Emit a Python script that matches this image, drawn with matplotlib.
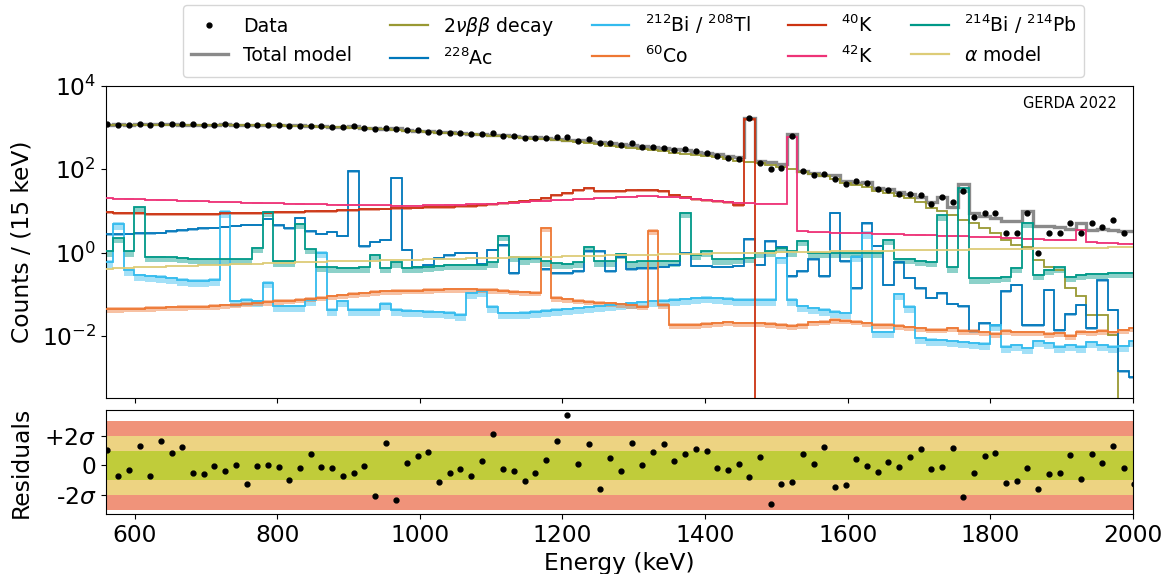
import numpy as np
import matplotlib
matplotlib.use("Agg")
import matplotlib.pyplot as plt
from matplotlib.lines import Line2D

# binning: 15 keV bins, centres at 562, 577, ... keV
bin_start = 554.5
bin_width = 15.0

# fitted model components, counts per bin
two_nbb = [
    1150, 1152, 1154, 1156, 1157, 1158, 1158, 1157, 1156, 1155, 1153, 1151, 1149, 1146, 1143, 1140, 1136,
    1115, 1095, 1075, 1055, 1035, 1010, 985, 955, 930, 905, 878, 852, 822, 790, 760, 735,
    712, 690, 668, 645, 620, 595, 570, 545, 520, 494, 469, 444, 420, 395, 370, 348, 328,
    300, 284, 268, 252, 237, 222, 207, 193, 178, 160, 150, 140, 128, 116,
    100, 85, 75, 68, 58, 47, 41, 37, 30, 27, 22.5, 20, 16.5, 12, 10, 8.0, 6.1, 5.0, 3.8, 2.9,
    2.0, 1.55, 1.34, 0.67, 0.46, 0.38, 0.14, 0.088, 0.032, 0.032, 0.0106, 0, 0,
]
ac228 = [
    2.75, 2.75, 2.8, 2.9, 2.9, 3.0, 3.2, 3.4, 3.6, 3.8, 3.9, 4.2, 4.4, 4.6, 4.6, 6.5, 4.5,
    3.8, 6.9, 3.2, 2.8, 3.15, 2.5, 90, 1.4, 1.8, 2.0, 63, 1.16, 0.44, 0.51, 0.73, 0.85,
    1.0, 1.0, 0.53, 1.16, 1.5, 0.32, 0.73, 0.73, 0.4, 0.32, 0.32, 0.35, 1.06, 1.06, 0.35, 0.8, 0.4,
    0.42, 0.42, 0.46, 0.51, 1.0, 0.48, 0.48, 0.46, 0.46, 0.48, 2.1, 0.51, 1.84, 1.39,
    0.27, 0.35, 0.69, 0.27, 9.1, 0.61, 0.14, 5.06, 1.45, 0.17, 0.58, 0.25, 0.137, 0.083, 0.106,
    0.059, 0.051, 0.0127, 0.020, 0.0178, 0.116, 0.168, 0.018, 0.018, 0.127, 0.0134, 0.033,
    0.055, 0.0153, 0.213, 0.042, 0.0014, 0.001,
]
bi212_tl208 = [
    0.6, 4.9, 0.38, 0.29, 0.27, 0.26, 0.24, 0.22, 0.21, 0.21, 0.22, 9.6, 0.067, 0.073, 0.067,
    0.19, 0.051, 0.051, 0.051, 0.073, 1.0, 0.042, 0.067, 0.042, 0.042, 0.042, 0.059, 0.042,
    0.040, 0.039, 0.038, 0.037, 0.036,
    0.032, 0.106, 0.116, 0.05, 0.035, 0.035, 0.036, 0.038, 0.04, 0.042, 0.044, 0.046, 0.048,
    0.051, 0.054, 0.057, 0.06, 0.063, 0.067, 0.07, 0.073, 0.076, 0.08, 0.083, 0.08, 0.077,
    0.073, 0.073, 0.073, 0.073, 0.73,
    0.073, 0.051, 0.046, 0.042, 0.038, 0.035, 0.8, 3.0, 0.012, 0.012, 0.10, 0.05, 0.0088,
    0.008, 0.0078, 0.0073, 0.007, 0.0067, 0.0065, 0.0177, 0.0055, 0.006, 0.005, 0.0073,
    0.0067, 0.0055, 0.006, 0.0055, 0.007, 0.006, 0.0055, 0.0057, 0.0073,
]
co60 = [
    0.044, 0.044, 0.045, 0.045, 0.046, 0.047, 0.048, 0.049, 0.05, 0.05, 0.052, 0.054, 0.056,
    0.059, 0.062, 0.065, 0.068, 0.07, 0.073, 0.078, 0.083, 0.088, 0.093, 0.1, 0.105, 0.112,
    0.116, 0.118, 0.12, 0.122, 0.125, 0.128, 0.13,
    0.13, 0.13, 0.128, 0.125, 0.122, 0.115, 0.11, 0.108, 3.8, 0.08, 0.075, 0.07, 0.066, 0.062,
    0.06, 0.057, 0.054, 0.05, 3.3, 0.055, 0.018, 0.018, 0.018, 0.019, 0.02, 0.021, 0.02, 0.02,
    0.02, 0.019, 0.018,
    0.017, 0.018, 0.021, 0.022, 0.024, 0.023, 0.022, 0.02, 0.018, 0.018, 0.017, 0.016, 0.015,
    0.014, 0.014, 0.015, 0.013, 0.013, 0.012, 0.011, 0.013, 0.012, 0.012, 0.012, 0.011, 0.0115,
    0.0098, 0.0125, 0.012, 0.013, 0.012, 0.0135, 0.015,
]
k40 = [
    9.3, 9.0, 8.8, 8.8, 8.6, 8.6, 8.5, 8.4, 8.5, 8.6, 8.6, 8.7, 8.8, 8.9, 9.0, 9.1, 9.3, 9.4,
    9.5, 9.7, 9.9, 10.1, 10.3, 10.6, 10.9, 11.1, 11.4, 11.6, 11.8, 12.0, 12.2, 12.4, 12.6,
    12.8, 13.2, 13.8, 14.5, 15.2, 16.0, 17.0, 18.5, 20, 23.5, 27, 31, 36, 30, 30, 30.5, 31,
    31.5, 31.5, 30, 24.5, 21, 19, 18, 17.5, 16, 14, 1570, 0, 0, 0,
] + [0] * 33
k42 = [
    20, 19.7, 19.3, 19.0, 18.6, 18.3, 18.0, 17.6, 17.3, 17.0, 16.7, 16.4, 16.1, 15.8, 15.5,
    15.3, 15.1, 14.9, 14.7, 14.5, 14.3, 14.1, 14.0, 13.9, 13.8, 13.6, 13.5, 13.4, 13.4, 13.4,
    13.5, 13.7, 13.9,
    14.1, 14.3, 14.6, 15.0, 15.4, 15.8, 16.3, 16.9, 17.4, 18.0, 18.5, 19.1, 19.7, 20.3, 20.9,
    21.5, 22.0, 22.3, 22.3, 21.8, 21.0, 20.0, 19.0, 18.2, 17.3, 16.5, 15.8, 15.3, 15.0, 15.0, 15.0,
    590, 3.2, 3.1, 3.05, 3.0, 2.95, 2.9, 2.9, 2.85, 2.8, 2.75, 2.7, 2.65, 2.6, 2.55, 2.5, 2.45,
    2.4, 2.35, 2.3, 2.25, 2.2, 2.15, 2.1, 2.05, 2.0, 2.0, 3.5, 1.75, 1.72, 1.68, 1.63, 1.6,
]
bi214_pb214 = [
    1.06, 2.2, 1.06, 12.2, 0.8, 0.8, 0.77, 0.73, 0.70, 0.68, 0.68, 0.68, 0.68, 0.68, 1.27, 9.3,
    0.61, 0.61, 4.9, 1.2, 0.46, 0.44, 0.43, 0.43, 0.44, 0.88, 0.42, 0.58, 0.42, 0.44, 0.46,
    0.48, 0.51,
    0.5, 0.5, 0.5, 0.58, 2.5, 0.8, 0.68, 0.73, 0.61, 0.55, 0.53, 0.58, 1.39, 0.61, 0.61, 0.93,
    0.58, 0.61, 0.61, 0.63, 0.61, 8.8, 0.88, 1.06, 0.68, 0.68, 0.7, 0.73, 0.96, 1.06, 1.27,
    1.06, 1.9, 1.0, 0.96, 0.96, 0.96, 0.96, 1.0, 0.96, 2.0, 0.7, 0.7, 0.62, 0.6, 7.8, 0.44, 35,
    0.24, 0.24, 0.25, 0.26, 0.42, 5.06, 0.29, 0.38, 0.44, 0.265, 0.29, 0.31, 0.31, 0.32, 0.33, 0.33,
]
alpha_model = [
    0.41, 0.42, 0.43, 0.44, 0.45, 0.46, 0.47, 0.48, 0.48, 0.49, 0.50, 0.51, 0.52, 0.53, 0.54,
    0.55, 0.56, 0.57, 0.58, 0.59, 0.60, 0.61, 0.62, 0.63, 0.63, 0.64, 0.65, 0.66, 0.67, 0.67,
    0.68, 0.69, 0.70, 0.71, 0.72, 0.73, 0.74, 0.75, 0.76, 0.77, 0.78, 0.79, 0.80, 0.81, 0.82,
    0.83, 0.84, 0.85, 0.86, 0.87, 0.88, 0.89, 0.90, 0.91, 0.92, 0.93, 0.94, 0.95, 0.96, 0.97,
    0.98, 0.99, 1.00, 1.01, 1.02, 1.03, 1.04, 1.05, 1.06, 1.07, 1.08, 1.09, 1.10, 1.11, 1.12,
    1.13, 1.14, 1.15, 1.16, 1.17, 1.18, 1.19, 1.20, 1.21, 1.22, 1.23, 1.24, 1.25, 1.26, 1.27,
    1.28, 1.29, 1.30, 1.31, 1.32, 1.33, 1.34,
]

# observed counts per bin
data_counts = [
    1202, 1138, 1138, 1247, 1159, 1247, 1225, 1247, 1202, 1180,
    1180, 1202, 1180, 1138, 1159, 1180, 1180, 1117, 1096, 1117,
    1076, 1038, 1038, 1096, 1000, 912, 1000, 929, 879, 879,
    802, 790, 750, 731, 705, 705, 759, 631, 631, 575,
    575, 575, 586, 597, 488, 525, 421, 437, 384, 421,
    350, 350, 331, 291, 302, 275, 251, 209, 191, 177,
    1740, 145, 100, 106, 630, 93, 74, 76, 58, 44,
    51, 47, 34, 32, 26, 25, 24, 15, 21, 16,
    30, 7, 9, 9, 3, 3, 9, 1, 3, 3,
    5, 3, 5, 4, 6, 3,
]

# normalised residuals (sigma)
residuals = [
    1.03, -0.72, -0.34, 1.33, -0.72, 1.66, 0.85, 1.26, -0.49, -0.56,
    -0.04, -0.38, 0.0, -1.24, -0.02, 0.02, -0.11, -1.01, -0.18, 0.74,
    -0.13, -0.18, -0.70, -0.52, -0.02, -2.09, 1.48, -2.36, 0.18, 0.63,
    0.92, -1.15, -0.52, -0.25, -0.70, 0.27, 2.09, -0.27, -0.40, -1.08,
    -0.49, 0.34, 1.64, 3.39, 0.09, 1.46, -1.60, 0.52, -0.38, 1.48,
    0.0, 0.92, 1.46, 0.27, 0.79, 1.08, 0.97, -0.18, -0.34, 0.09,
    -0.81, 0.54, -2.58, -1.28, -1.10, 0.74, 0.09, 1.26, -1.44, -1.30,
    0.45, -0.07, -0.47, 0.20, -0.13, 0.56, 1.10, -0.27, -0.11, 1.19,
    -2.11, -0.52, 0.61, 0.83, -1.17, -1.08, -0.20, -1.60, -0.58, -0.52,
    0.67, -0.94, 0.79, 0.13, 1.33, -0.18, -1.28,
]

edges = bin_start + bin_width * np.arange(len(two_nbb) + 1)
centers = edges[:-1] + bin_width / 2

# (values, colour, label, relative uncertainty band)
components = [
    (two_nbb, "#999933", r"$2\nu\beta\beta$ decay", None),
    (ac228, "#0077BB", r"$^{228}$Ac", (0.92, 1.04)),
    (bi212_tl208, "#33BBEE", r"$^{212}$Bi / $^{208}$Tl", (0.72, 1.08)),
    (co60, "#EE7733", r"$^{60}$Co", (0.82, 1.10)),
    (k40, "#CC3311", r"$^{40}$K", (0.90, 1.05)),
    (k42, "#EE3377", r"$^{42}$K", (0.96, 1.03)),
    (bi214_pb214, "#009988", r"$^{214}$Bi / $^{214}$Pb", (0.75, 1.04)),
    (alpha_model, "#DDCC77", r"$\alpha$ model", None),
]
total_model = np.sum([np.array(c[0], dtype=float) for c in components], axis=0)

fs_label = 16.8

fig = plt.figure(figsize=(11.64, 5.74), dpi=100)
ax = fig.add_axes([0.0911, 0.3066, 0.8823, 0.5436])
axr = fig.add_axes([0.0911, 0.1045, 0.8823, 0.1812], sharex=ax)

ax.set_yscale("log")
ax.stairs(total_model, edges, baseline=None, color="#8a8a8a", lw=2.4, zorder=2)

handles = [
    Line2D([], [], color="black", marker="o", ms=3.5, ls="none"),
    Line2D([], [], color="#8a8a8a", lw=2.4),
]
labels = ["Data", "Total model"]
for vals, col, lab, band in components:
    vals = np.array(vals, dtype=float)
    if band is not None:
        last = np.nonzero(vals)[0][-1]
        ax.stairs(vals[:last + 1] * band[1], edges[:last + 2],
                  baseline=vals[:last + 1] * band[0], fill=True,
                  color=col, alpha=0.45, lw=0, zorder=2.5)
    ax.stairs(vals, edges, baseline=None, color=col, lw=1.3, zorder=3)
    handles.append(Line2D([], [], color=col, lw=1.6))
    labels.append(lab)

ax.plot(centers[:len(data_counts)], data_counts, "o", color="black", ms=3.5, zorder=5)

ax.set_xlim(560, 2000)
ax.set_ylim(3.2e-4, 1e4)
ax.set_yticks([1e-2, 1, 1e2, 1e4])
ax.yaxis.set_minor_locator(matplotlib.ticker.NullLocator())
ax.tick_params(labelbottom=False, labelsize=fs_label)
ax.set_ylabel("Counts / (15 keV)", fontsize=fs_label)
ax.text(0.984, 0.945, "GERDA 2022", transform=ax.transAxes, ha="right", va="center", fontsize=10.5)

# residual panel
axr.axhspan(-3, 3, color="#f0937a", lw=0, zorder=0)
axr.axhspan(-2, 2, color="#edd382", lw=0, zorder=0)
axr.axhspan(-1, 1, color="#c0cc3a", lw=0, zorder=0)
axr.plot(centers[:len(residuals)], residuals, "o", color="black", ms=3.5, zorder=3)
axr.set_ylim(-3.28, 3.73)
axr.set_yticks([-2, 0, 2])
axr.set_yticklabels([r"-2$\sigma$", "0", r"+2$\sigma$"])
axr.set_xticks(np.arange(600, 2001, 200))
axr.tick_params(labelsize=fs_label)
axr.set_xlabel("Energy (keV)", fontsize=fs_label)
axr.set_ylabel("Residuals", fontsize=fs_label)

ax.yaxis.set_label_coords(-0.071, 0.5)
axr.yaxis.set_label_coords(-0.071, 0.5)

fig.legend(handles, labels, ncol=5, loc="upper center", bbox_to_anchor=(0.5443, 1.0077),
           fontsize=13.6, handlelength=2.0, columnspacing=2.0)

fig.savefig("out.png", dpi=100)
